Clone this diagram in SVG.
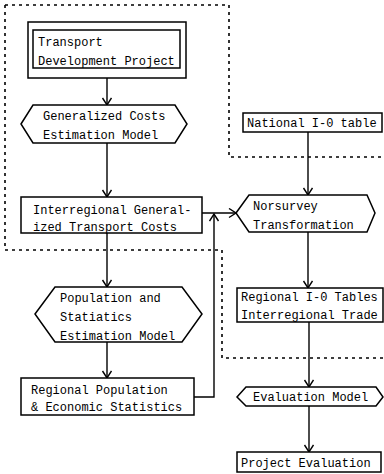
<svg xmlns="http://www.w3.org/2000/svg" width="384" height="474" viewBox="0 0 384 474">
<defs>
<style>
.b{fill:#fff;stroke:#000;stroke-width:1.5}
.t{font-family:"Liberation Mono","DejaVu Sans Mono",monospace;font-size:12px;fill:#000}
.c{fill:none;stroke:#000;stroke-width:1.4}
.d{fill:none;stroke:#000;stroke-width:1.6;stroke-dasharray:3 4}
</style>
<marker id="a" markerUnits="userSpaceOnUse" markerWidth="12" markerHeight="12" refX="8" refY="5" orient="auto">
<path d="M1,0.5 L8,5 L1,9.5" fill="none" stroke="#000" stroke-width="1.4"/>
</marker>
</defs>
<rect width="384" height="474" fill="#fff"/>
<g id="boundary">
<path class="d" d="M5,5 H229 V157 H384"/>
<path class="d" d="M5,5 V250 H222 V358 H384"/>
</g>
<g id="connectors">
<path class="c" d="M107,78 V105" marker-end="url(#a)"/>
<path class="c" d="M107,143 V197" marker-end="url(#a)"/>
<path class="c" d="M107,233 V287" marker-end="url(#a)"/>
<path class="c" d="M107,342 V378" marker-end="url(#a)"/>
<path class="c" d="M202,213 H236" marker-end="url(#a)"/>
<path class="c" d="M194,397 H214 V214" marker-end="url(#a)"/>
<path class="c" d="M308,132 V195" marker-end="url(#a)"/>
<path class="c" d="M308,232 V288" marker-end="url(#a)"/>
<path class="c" d="M309,322 V387" marker-end="url(#a)"/>
<path class="c" d="M309,406 V452" marker-end="url(#a)"/>
</g>
<g id="transport-development-project">
<rect class="b" x="28" y="22" width="158" height="56"/>
<rect class="b" x="33" y="30" width="147" height="38"/>
<text class="t" x="38" y="46">Transport</text>
<text class="t" x="38" y="65">Development Project</text>
</g>
<g id="generalized-costs-model">
<polygon class="b" points="21,124 33,105 175,105 187,124 175,143 33,143"/>
<text class="t" x="43" y="120">Generalized Costs</text>
<text class="t" x="43" y="139">Estimation Model</text>
</g>
<g id="interregional-costs">
<rect class="b" x="21" y="197" width="181" height="36"/>
<text class="t" x="33" y="214">Interregional General-</text>
<text class="t" x="33" y="231">ized Transport Costs</text>
</g>
<g id="population-model">
<polygon class="b" points="35,314 55,287 182,287 202,314 182,342 55,342"/>
<text class="t" x="60" y="302">Population and</text>
<text class="t" x="60" y="321">Statiatics</text>
<text class="t" x="60" y="340">Estimation Model</text>
</g>
<g id="regional-population">
<rect class="b" x="21" y="378" width="173" height="37"/>
<text class="t" x="31" y="394">Regional Population</text>
<text class="t" x="31" y="411">&amp; Economic Statistics</text>
</g>
<g id="national-io-table">
<rect class="b" x="243" y="113" width="139" height="19"/>
<text class="t" x="247" y="127">National I-0 table</text>
</g>
<g id="nonsurvey-transformation">
<polygon class="b" points="236,213 249,195 367,195 375,213 367,232 249,232"/>
<text class="t" x="253" y="210">Norsurvey</text>
<text class="t" x="253" y="229">Transformation</text>
</g>
<g id="regional-io-tables">
<rect class="b" x="237" y="288" width="146" height="34"/>
<text class="t" x="241" y="301">Regional I-0 Tables</text>
<text class="t" x="241" y="319">Interregional Trade</text>
</g>
<g id="evaluation-model">
<polygon class="b" points="237,397 246,387 376,387 383,397 376,406 246,406"/>
<text class="t" x="253" y="401">Evaluation Model</text>
</g>
<g id="project-evaluation">
<rect class="b" x="237" y="452" width="144" height="20"/>
<text class="t" x="241" y="467">Project Evaluation</text>
</g>
</svg>
